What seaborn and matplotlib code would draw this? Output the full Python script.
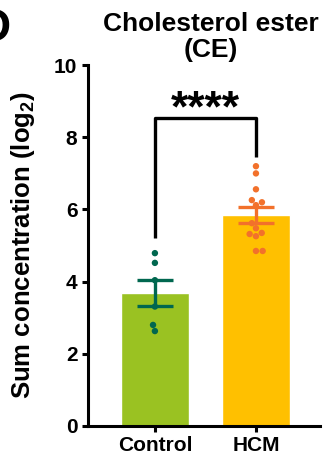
import numpy as np
import pandas as pd
import matplotlib
matplotlib.use('Agg')
import matplotlib.pyplot as plt
import seaborn as sns

# Values (log2 sum concentration)
groups = ['Control', 'HCM']
control_vals = [4.79, 4.52, 4.04, 3.31, 2.80, 2.63]
hcm_vals = [7.20, 7.00, 6.56, 6.26, 6.20, 6.12, 5.62, 5.48, 5.35, 5.32, 5.26, 4.85, 4.85]
bar_colors = ['#9AC222', '#FFC000']
dot_colors = ['#00674F', '#F2712B']
y_ticks = [0, 2, 4, 6, 8, 10]
title = 'Cholesterol ester\n(CE)'
ylabel = 'Sum concentration (log$_{\\mathbf{2}}$)'
sig_label = '****'

df = pd.DataFrame({
    'group': ['Control'] * len(control_vals) + ['HCM'] * len(hcm_vals),
    'value': control_vals + hcm_vals,
})

sns.set_style('ticks', {'axes.edgecolor': 'black', 'xtick.color': 'black',
                        'ytick.color': 'black', 'text.color': 'black',
                        'axes.labelcolor': 'black'})
plt.rcParams['font.family'] = ['Liberation Sans', 'DejaVu Sans']
plt.rcParams['font.weight'] = 'bold'
plt.rcParams['mathtext.fontset'] = 'custom'
plt.rcParams['mathtext.rm'] = 'Liberation Sans:bold'
plt.rcParams['mathtext.bf'] = 'Liberation Sans:bold'

fig = plt.figure(figsize=(3.33, 4.59), dpi=100)
ax = fig.add_axes([0.264, 0.072, 0.697, 0.786])

sns.barplot(data=df, x='group', y='value', order=groups, hue='group',
            palette=bar_colors, errorbar=None, width=0.67, saturation=1,
            legend=False, ax=ax, zorder=1)
sns.swarmplot(data=df, x='group', y='value', order=groups, hue='group',
              palette=dot_colors, size=4.6, legend=False, ax=ax, zorder=3)

# mean +/- SEM
for i, g in enumerate(groups):
    v = np.array(df.loc[df['group'] == g, 'value'])
    m = v.mean()
    sem = v.std(ddof=1) / np.sqrt(len(v))
    ax.errorbar(i, m, yerr=sem, color=dot_colors[i], capsize=13,
                elinewidth=2.4, capthick=2.4, zorder=4)

# significance bracket
ax.plot([0, 0, 1, 1], [5.21, 8.53, 8.53, 7.45], color='black', lw=2.4,
        solid_capstyle='butt', zorder=2)
ax.text(0.5, 8.18, sig_label, ha='center', va='bottom', fontsize=32,
        fontweight='bold', color='black')

ax.set_ylim(0, 10)
ax.set_xlim(-0.663, 1.634)
ax.set_yticks(y_ticks)
ax.set_xlabel('')
ax.set_ylabel(ylabel, fontsize=18.5, fontweight='bold', labelpad=12, color='black')
ax.set_title(title, fontsize=19, fontweight='bold', pad=6, color='black',
             linespacing=1.1, x=0.53)
ax.tick_params(axis='both', width=2.2, length=4, labelsize=15, colors='black')
for lab in ax.get_xticklabels() + ax.get_yticklabels():
    lab.set_fontweight('bold')
for s in ['left', 'bottom']:
    ax.spines[s].set_linewidth(2.2)
    ax.spines[s].set_color('black')
sns.despine(ax=ax)

fig.text(-0.065, 0.985, 'D', fontsize=33, fontweight='bold', va='top', ha='left',
         color='black')

fig.savefig('out.png', dpi=100)
